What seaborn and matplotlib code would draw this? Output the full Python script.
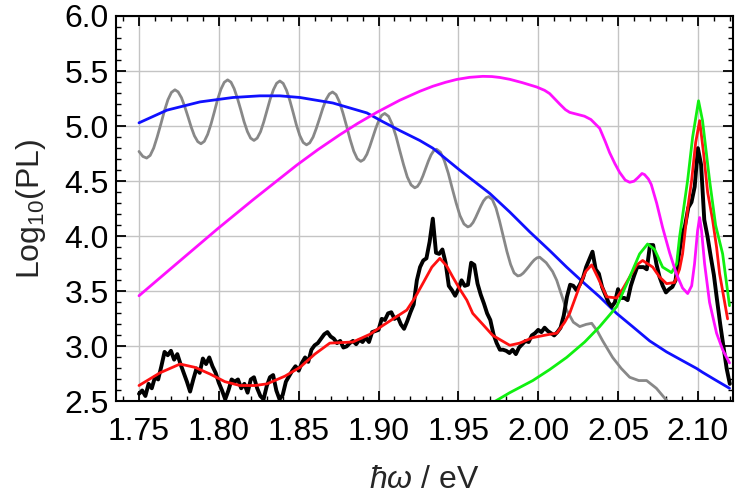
"""Log10 PL spectra with model curves."""

import matplotlib.pyplot as plt
import pandas as pd
import seaborn as sns
from matplotlib.ticker import FormatStrFormatter, MultipleLocator

# measured spectrum (black)
energy_measured = [
    1.750, 1.752, 1.754, 1.756, 1.758, 1.760, 1.762, 1.764, 1.766, 1.768,
    1.770, 1.772, 1.774, 1.776, 1.778, 1.780, 1.782, 1.784, 1.786, 1.788,
    1.790, 1.792, 1.794, 1.796, 1.798, 1.800, 1.802, 1.804, 1.806, 1.808,
    1.810, 1.812, 1.814, 1.816, 1.818, 1.820, 1.822, 1.824, 1.826, 1.828,
    1.830, 1.832, 1.834, 1.836, 1.838, 1.840, 1.842, 1.844, 1.846, 1.848,
    1.850, 1.852, 1.854, 1.856, 1.858, 1.860, 1.862, 1.864, 1.866, 1.868,
    1.870, 1.872, 1.874, 1.876, 1.878, 1.880, 1.882, 1.884, 1.886, 1.888,
    1.890, 1.892, 1.894, 1.896, 1.898, 1.900, 1.902, 1.904, 1.906, 1.908,
    1.910, 1.912, 1.914, 1.916, 1.918, 1.920, 1.922, 1.924, 1.926, 1.928,
    1.930, 1.932, 1.934, 1.936, 1.938, 1.940, 1.942, 1.944, 1.946, 1.948,
    1.950, 1.952, 1.954, 1.956, 1.958, 1.960, 1.962, 1.964, 1.966, 1.968,
    1.970, 1.972, 1.974, 1.976, 1.978, 1.980, 1.982, 1.984, 1.986, 1.988,
    1.990, 1.992, 1.994, 1.996, 1.998, 2.000, 2.002, 2.004, 2.006, 2.008,
    2.010, 2.012, 2.014, 2.016, 2.018, 2.020, 2.022, 2.024, 2.026, 2.028,
    2.030, 2.032, 2.034, 2.036, 2.038, 2.040, 2.042, 2.044, 2.046, 2.048,
    2.050, 2.052, 2.054, 2.056, 2.058, 2.060, 2.062, 2.064, 2.066, 2.068,
    2.070, 2.072, 2.074, 2.076, 2.078, 2.080, 2.082, 2.084, 2.086, 2.088,
    2.090, 2.092, 2.094, 2.096, 2.098, 2.100, 2.102, 2.104, 2.106, 2.108,
    2.110, 2.112, 2.114, 2.116, 2.118, 2.120,
]
log_pl_measured = [
    2.57, 2.60, 2.55, 2.66, 2.62, 2.72, 2.70, 2.82, 2.95, 2.92,
    2.96, 2.88, 2.93, 2.84, 2.76, 2.68, 2.59, 2.70, 2.80, 2.76,
    2.89, 2.84, 2.90, 2.82, 2.76, 2.67, 2.60, 2.52, 2.60, 2.70,
    2.68, 2.70, 2.62, 2.66, 2.58, 2.70, 2.72, 2.62, 2.55, 2.52,
    2.64, 2.72, 2.74, 2.60, 2.52, 2.56, 2.68, 2.73, 2.78, 2.82,
    2.78, 2.85, 2.90, 2.86, 2.97, 3.01, 3.03, 3.07, 3.11, 3.13,
    3.09, 3.07, 3.03, 3.05, 2.99, 3.00, 3.03, 3.05, 3.02, 3.06,
    3.04, 3.08, 3.04, 3.13, 3.14, 3.15, 3.25, 3.24, 3.30, 3.31,
    3.25, 3.27, 3.20, 3.16, 3.23, 3.31, 3.38, 3.60, 3.72, 3.78,
    3.80, 3.95, 4.16, 3.85, 3.84, 3.88, 3.76, 3.55, 3.51, 3.46,
    3.52, 3.60, 3.55, 3.56, 3.76, 3.74, 3.57, 3.47, 3.39, 3.30,
    3.24, 3.11, 3.03, 2.97, 2.97, 2.96, 2.94, 2.97, 2.93, 2.99,
    3.02, 3.05, 3.04, 3.10, 3.12, 3.15, 3.13, 3.17, 3.14, 3.12,
    3.10, 3.13, 3.17, 3.28, 3.45, 3.56, 3.55, 3.51, 3.56, 3.62,
    3.72, 3.79, 3.86, 3.70, 3.66, 3.54, 3.47, 3.40, 3.36, 3.40,
    3.52, 3.44, 3.44, 3.42, 3.55, 3.64, 3.72, 3.72, 3.72, 3.70,
    3.92, 3.92, 3.75, 3.63, 3.55, 3.49, 3.52, 3.54, 3.60, 3.82,
    4.00, 4.10, 4.26, 4.31, 4.45, 4.80, 4.65, 4.15, 4.00, 3.82,
    3.65, 3.42, 3.20, 3.00, 2.80, 2.66,
]

# fit (red)
energy_fit = [
    1.7500, 1.7631, 1.7757, 1.7850, 1.7944, 1.8038, 1.8132, 1.8226, 1.8301, 1.8414,
    1.8508, 1.8601, 1.8695, 1.8839, 1.8946, 1.9027, 1.9102, 1.9177, 1.9227, 1.9277,
    1.9334, 1.9384, 1.9427, 1.9465, 1.9509, 1.9553, 1.9590, 1.9653, 1.9715, 1.9822,
    1.9884, 1.9966, 2.0072, 2.0116, 2.0166, 2.0197, 2.0260, 2.0297, 2.0335, 2.0372,
    2.0429, 2.0491, 2.0529, 2.0573, 2.0617, 2.0654, 2.0717, 2.0760, 2.0804, 2.0854,
    2.0885, 2.0904, 2.0936, 2.0961, 2.0986, 2.1011, 2.1036, 2.1061, 2.1092, 2.1117,
    2.1136, 2.1186,
]
log_pl_fit = [
    2.645, 2.76, 2.84, 2.81, 2.75, 2.68, 2.645, 2.645, 2.66, 2.73,
    2.81, 2.93, 3.03, 3.04, 3.11, 3.19, 3.26, 3.33, 3.44, 3.57,
    3.72, 3.80, 3.73, 3.63, 3.52, 3.42, 3.30, 3.20, 3.10, 3.01,
    3.03, 3.08, 3.11, 3.12, 3.22, 3.30, 3.55, 3.68, 3.74, 3.63,
    3.45, 3.44, 3.52, 3.63, 3.74, 3.78, 3.72, 3.63, 3.57, 3.58,
    3.70, 3.84, 4.25, 4.51, 4.85, 5.05, 4.75, 4.40, 4.15, 3.90,
    3.66, 3.25,
]

# oscillating model (gray)
energy_gray = [
    1.7500, 1.7524, 1.7548,
    1.7570, 1.7592, 1.7614, 1.7637, 1.7659, 1.7681, 1.7703, 1.7725,
    1.7745, 1.7766, 1.7786, 1.7807, 1.7827, 1.7847, 1.7868, 1.7888,
    1.7909, 1.7930, 1.7951, 1.7972, 1.7992, 1.8013, 1.8034, 1.8055,
    1.8076, 1.8096, 1.8117, 1.8138, 1.8158, 1.8179, 1.8199, 1.8220,
    1.8240, 1.8261, 1.8281, 1.8301, 1.8321, 1.8342, 1.8362, 1.8382,
    1.8403, 1.8424, 1.8445, 1.8466, 1.8486, 1.8507, 1.8528, 1.8549,
    1.8569, 1.8590, 1.8610, 1.8631, 1.8651, 1.8671, 1.8692, 1.8712,
    1.8734, 1.8756, 1.8778, 1.8801, 1.8823, 1.8845, 1.8867, 1.8889,
    1.8908, 1.8927, 1.8945, 1.8964, 1.8983, 1.9002, 1.9020, 1.9039,
    1.9063, 1.9086, 1.9110, 1.9133, 1.9157, 1.9180, 1.9204, 1.9227,
    1.9244, 1.9261, 1.9278, 1.9295, 1.9312, 1.9329, 1.9346, 1.9363,
    1.9388, 1.9412, 1.9437, 1.9461, 1.9486, 1.9510, 1.9535, 1.9559,
    1.9575, 1.9592, 1.9608, 1.9625, 1.9641, 1.9657, 1.9674, 1.9690,
    1.9713, 1.9736, 1.9758, 1.9781, 1.9804, 1.9827, 1.9849, 1.9872,
    1.9889, 1.9906, 1.9923, 1.9941, 1.9958, 1.9975, 1.9992, 2.0009,
    2.0050, 2.0090, 2.0116, 2.0150, 2.0178, 2.0220, 2.0260, 2.0300,
    2.0335, 2.0370, 2.0404, 2.0466, 2.0520, 2.0573, 2.0630, 2.0679,
    2.0740, 2.0804, 2.0836,
]
log_pl_gray = [
    4.770, 4.725, 4.710,
    4.734, 4.801, 4.902, 5.020, 5.138, 5.239, 5.306, 5.330,
    5.311, 5.258, 5.179, 5.085, 4.991, 4.912, 4.859, 4.840,
    4.862, 4.925, 5.019, 5.130, 5.241, 5.335, 5.398, 5.420,
    5.399, 5.340, 5.250, 5.145, 5.040, 4.950, 4.891, 4.870,
    4.891, 4.949, 5.037, 5.140, 5.243, 5.331, 5.389, 5.410,
    5.388, 5.325, 5.231, 5.120, 5.009, 4.915, 4.852, 4.830,
    4.848, 4.900, 4.978, 5.070, 5.162, 5.240, 5.292, 5.310,
    5.286, 5.218, 5.115, 4.995, 4.875, 4.772, 4.704, 4.680,
    4.697, 4.744, 4.814, 4.898, 4.981, 5.051, 5.098, 5.115,
    5.089, 5.016, 4.906, 4.778, 4.649, 4.539, 4.466, 4.440,
    4.453, 4.491, 4.548, 4.615, 4.682, 4.739, 4.777, 4.790,
    4.763, 4.687, 4.572, 4.438, 4.303, 4.188, 4.112, 4.085,
    4.095, 4.125, 4.170, 4.223, 4.275, 4.320, 4.350, 4.360,
    4.333, 4.255, 4.138, 4.000, 3.862, 3.745, 3.667, 3.640,
    3.646, 3.665, 3.693, 3.725, 3.757, 3.785, 3.804, 3.810,
    3.760, 3.680, 3.600, 3.450, 3.330, 3.220, 3.180, 3.200,
    3.210, 3.140, 3.050, 2.900, 2.800, 2.720, 2.690, 2.690,
    2.620, 2.510, 2.470,
]

# broad band (blue)
energy_blue = [
    1.7500, 1.7675, 1.7882, 1.8088, 1.8257, 1.8382, 1.8508, 1.8714, 1.8927, 1.9027,
    1.9133, 1.9258, 1.9340, 1.9509, 1.9696, 1.9822, 1.9947, 2.0072, 2.0178, 2.0291,
    2.0385, 2.0491, 2.0591, 2.0698, 2.0804, 2.0904, 2.0992, 2.1029, 2.1104, 2.1198,
]
log_pl_blue = [
    5.03, 5.145, 5.22, 5.26, 5.275, 5.275, 5.26, 5.21, 5.12, 5.04,
    4.96, 4.87, 4.80, 4.60, 4.39, 4.22, 4.04, 3.87, 3.72, 3.57,
    3.45, 3.30, 3.18, 3.05, 2.95, 2.87, 2.80, 2.765, 2.70, 2.62,
]

# magenta model
energy_magenta = [
    1.7500, 1.7694, 1.7994, 1.8213, 1.8489, 1.8620, 1.8758, 1.8870, 1.8989, 1.9133,
    1.9258, 1.9340, 1.9420, 1.9490, 1.9570, 1.9653, 1.9710, 1.9759, 1.9822, 1.9900,
    1.9991, 2.0040, 2.0072, 2.0135, 2.0170, 2.0197, 2.0250, 2.0290, 2.0330, 2.0385,
    2.0420, 2.0447, 2.0480, 2.0510, 2.0545, 2.0573, 2.0600, 2.0623, 2.0650, 2.0666,
    2.0690, 2.0708, 2.0742, 2.0779, 2.0823, 2.0865, 2.0904, 2.0936, 2.0961, 2.0979,
    2.0998, 2.1011, 2.1023, 2.1042, 2.1073, 2.1117, 2.1155, 2.1198,
]
log_pl_magenta = [
    3.46, 3.70, 4.07, 4.33, 4.647, 4.786, 4.922, 5.025, 5.125, 5.235,
    5.316, 5.362, 5.398, 5.424, 5.443, 5.452, 5.450, 5.442, 5.425, 5.395,
    5.355, 5.325, 5.295, 5.20, 5.15, 5.125, 5.105, 5.09, 5.06, 4.98,
    4.86, 4.76, 4.66, 4.58, 4.51, 4.49, 4.50, 4.53, 4.57, 4.56,
    4.52, 4.47, 4.30, 4.08, 3.85, 3.66, 3.53, 3.48, 3.55, 3.75,
    4.05, 4.17, 4.05, 3.75, 3.40, 3.12, 2.97, 2.85,
]

# green model
energy_green = [
    1.9660, 1.9728, 1.9822, 1.9966, 2.0072, 2.0178, 2.0291, 2.0385, 2.0491, 2.0573,
    2.0635, 2.0685, 2.0729, 2.0779, 2.0835, 2.0867, 2.0885, 2.0936, 2.0967, 2.1004,
    2.1029, 2.1073, 2.1111, 2.1155, 2.1198,
]
log_pl_green = [
    2.46, 2.50, 2.58, 2.69, 2.79, 2.90, 3.04, 3.18, 3.36, 3.63,
    3.84, 3.93, 3.88, 3.72, 3.67, 3.75, 3.99, 4.51, 4.90, 5.23,
    5.05, 4.51, 4.10, 3.84, 3.37,
]


def to_frame(energy, log_pl):
    return pd.DataFrame({"energy": energy, "log_pl": log_pl})


def main():
    sns.set_style("white")
    plt.rcParams["font.family"] = ["Liberation Sans", "DejaVu Sans"]
    plt.rcParams["mathtext.fontset"] = "custom"
    plt.rcParams["mathtext.rm"] = "Liberation Sans"
    plt.rcParams["mathtext.it"] = "Liberation Sans:italic"

    fig = plt.figure(figsize=(7.37, 4.98), dpi=100)
    ax = fig.add_axes([0.1574, 0.1938, 0.8372, 0.7741])

    series = [
        (energy_gray, log_pl_gray, "#888888", 2.0),
        (energy_blue, log_pl_blue, "#1010ff", 2.0),
        (energy_measured, log_pl_measured, "black", 2.8),
        (energy_fit, log_pl_fit, "#ff1010", 2.0),
        (energy_green, log_pl_green, "#10f010", 2.0),
        (energy_magenta, log_pl_magenta, "#ff10ff", 2.0),
    ]
    for energy, log_pl, color, lw in series:
        sns.lineplot(
            data=to_frame(energy, log_pl),
            x="energy",
            y="log_pl",
            color=color,
            linewidth=lw,
            sort=False,
            estimator=None,
            ax=ax,
        )

    ax.set_xlim(1.7356, 2.122)
    ax.set_ylim(2.5, 6.0)
    ax.xaxis.set_major_locator(MultipleLocator(0.05))
    ax.xaxis.set_minor_locator(MultipleLocator(0.01))
    ax.yaxis.set_major_locator(MultipleLocator(0.5))
    ax.yaxis.set_minor_locator(MultipleLocator(0.1))
    ax.xaxis.set_major_formatter(FormatStrFormatter("%.2f"))
    ax.yaxis.set_major_formatter(FormatStrFormatter("%.1f"))

    ax.grid(True, which="major", color="#c4c4c4", linewidth=1.0)
    ax.set_axisbelow(True)
    ax.tick_params(
        which="both", direction="in", bottom=True, left=True, top=True,
        right=True, colors="black", labelsize=23,
    )
    ax.tick_params(which="major", length=7, width=1.3)
    ax.tick_params(which="minor", length=3.5, width=1.0)
    ax.tick_params(axis="x", which="major", pad=11)
    ax.tick_params(axis="y", which="major", pad=5)
    for spine in ax.spines.values():
        spine.set_color("black")
        spine.set_linewidth(1.5)

    ax.set_xlabel(r"$\hbar\omega$ / eV", fontsize=23, labelpad=13)
    ax.set_ylabel(r"Log$_{10}$(PL)", fontsize=23, labelpad=12)

    fig.savefig("out.png", dpi=100)
    plt.close(fig)


if __name__ == "__main__":
    main()
